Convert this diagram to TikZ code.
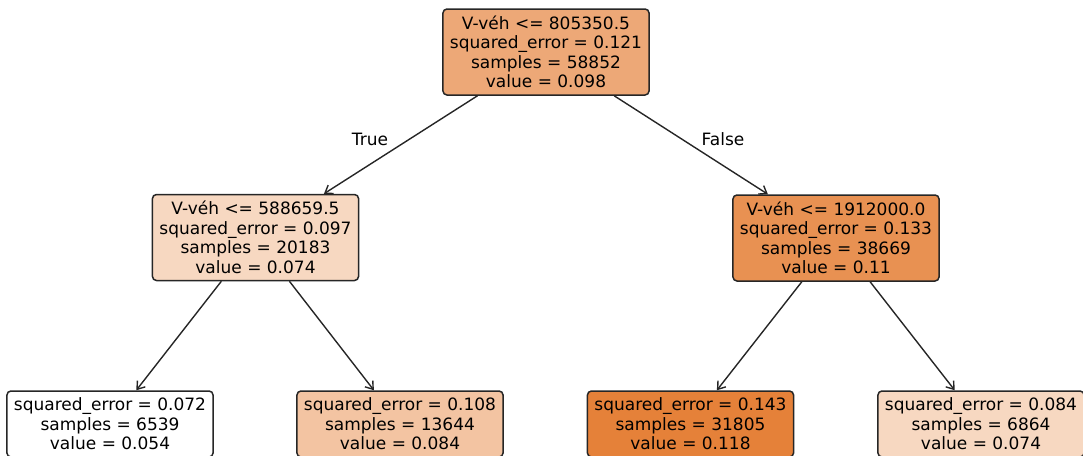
\documentclass[tikz,border=0pt]{standalone}
\usepackage{fontspec}
\setmainfont{DejaVu Sans}
\usetikzlibrary{arrows.meta}
\definecolor{c0}{RGB}{237,168,119}
\definecolor{c1}{RGB}{247,216,193}
\definecolor{c2}{RGB}{232,145,82}
\definecolor{c3}{RGB}{255,255,255}
\definecolor{c4}{RGB}{243,196,162}
\definecolor{c5}{RGB}{229,129,57}
\definecolor{c6}{RGB}{247,216,193}
\tikzset{
  tree/.style={draw=black!85, line width=1.5pt, rounded corners=4pt, align=center,
    font=\fontsize{17}{19.5}\selectfont, inner xsep=7pt, inner ysep=3pt},
  split/.style={tree, minimum height=86pt},
  leaf/.style={tree, minimum height=66pt},
  edge/.style={draw=black!85, line width=1.4pt, -{Straight Barb[length=7pt,width=10pt]}},
  lbl/.style={font=\fontsize{17}{19.5}\selectfont}
}
\begin{document}
\begin{tikzpicture}[x=1pt,y=-1pt]
\useasboundingbox (0,0) rectangle (1083,455);
\clip (0,0) rectangle (1083,455);
\node[split, fill=c0] (n0) at (546,52) {V-véh <= 805350.5\\squared\_error = 0.121\\samples = 58852\\value = 0.098};
\node[split, fill=c1] (n1) at (255.5,237.5) {V-véh <= 588659.5\\squared\_error = 0.097\\samples = 20183\\value = 0.074};
\node[split, fill=c2] (n4) at (836,238) {V-véh <= 1912000.0\\squared\_error = 0.133\\samples = 38669\\value = 0.11};
\node[leaf, fill=c3] (n2) at (110,424) {squared\_error = 0.072\\samples = 6539\\value = 0.054};
\node[leaf, fill=c4] (n3) at (400,424) {squared\_error = 0.108\\samples = 13644\\value = 0.084};
\node[leaf, fill=c5] (n5) at (690.5,424) {squared\_error = 0.143\\samples = 31805\\value = 0.118};
\node[leaf, fill=c6] (n6) at (981,424) {squared\_error = 0.084\\samples = 6864\\value = 0.074};
\draw[edge] (n0) -- (n1);
\draw[edge] (n0) -- (n4);
\draw[edge] (n1) -- (n2);
\draw[edge] (n1) -- (n3);
\draw[edge] (n4) -- (n5);
\draw[edge] (n4) -- (n6);
\node[lbl] (t) at (370,139) {True};
\node[lbl] (f) at (723,139) {False};
\end{tikzpicture}
\end{document}
